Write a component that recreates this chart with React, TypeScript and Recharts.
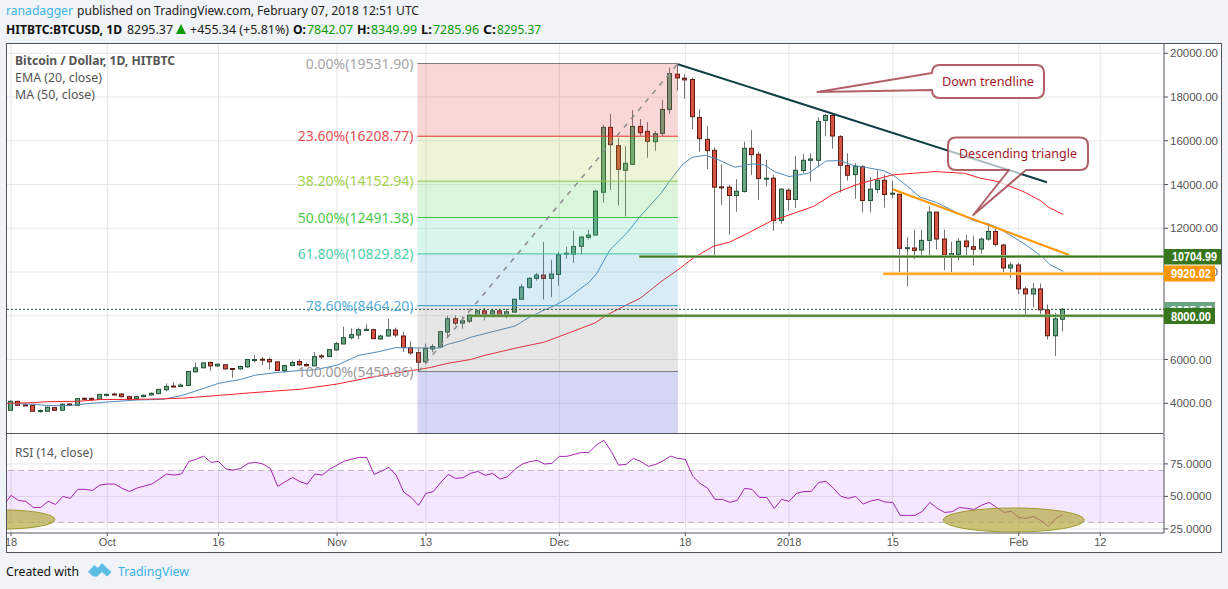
import { Bar, CartesianGrid, ComposedChart, Line, ReferenceArea, ReferenceDot, ReferenceLine, XAxis, YAxis } from "recharts";

// daily candles, index 0 = 18 Sep 2017
const opens = [3682,4091,3924,3909,3636,3636,3803,3682,3970,3909,4227,4227,4182,4379,4424,4424,4303,4197,4303,4379,4439,4621,4788,4773,4818,5439,5621,5864,5712,5758,5591,5576,5667,5985,6015,6000,5894,5485,5727,5909,5773,5712,6167,6136,6439,6712,7000,7121,7348,7364,6939,7076,7348,7076,6545,6318,5894,6485,6576,7258,7864,7667,7758,8030,8227,8076,8227,8000,8167,8757,9303,9712,9863,9712,9894,10818,10818,11175,11585,11691,13650,16613,15777,14653,14927,16658,16431,15960,16340,17433,19043,18861,18800,17069,16066,15565,13894,13879,13499,13681,15656,15382,14274,14289,12360,13742,13317,14638,15109,15109,16932,17160,16188,14866,14456,14820,13271,13772,14198,13560,13560,11084,11099,11008,11448,12740,11509,10750,10811,11418,11160,11052,11508,11857,11234,10186,10323,9229,9001,9229,8272,7087,7842.07];
const highs = [4136,4106,3955,3909,3727,3848,3818,4000,4000,4242,4273,4258,4409,4424,4485,4470,4348,4348,4409,4500,4652,4909,4955,4909,5455,5864,5848,5909,5818,5773,5591,5727,6030,6197,6106,6091,5909,5758,5955,6015,5848,6333,6242,6455,6803,7500,7424,7455,7606,7409,7136,7864,7455,7273,6833,6500,6727,6700,7303,8000,8015,7970,8091,8273,8364,8318,8288,8318,8773,9454,9757,9954,11378,10560,10924,11151,11874,11650,11935,13757,16720,17220,16150,15762,17403,16993,16856,16446,17858,19347,19500,19043,18891,17448,16674,15702,14927,13985,14243,15960,16491,15504,15124,14441,13833,13833,15307,15398,15428,17069,17221,17251,16264,15428,14972,14896,14335,14638,14441,14182,13560,11600,11935,11935,13000,12740,11935,11386,11553,11707,11661,11584,12161,12009,11295,10444,10414,9320,9503,9472,8515,8135,8349.99];
const lows = [3682,3894,3880,3621,3576,3621,3667,3667,3880,3894,4152,4091,4152,4303,4364,4273,4167,4152,4273,4348,4424,4545,4742,4758,4803,5409,5606,5485,5651,5530,5167,5530,5621,5879,5742,5561,5485,5409,5697,5712,5697,5697,6030,6106,6394,6697,6924,6924,7303,6939,6909,7061,7030,6348,6212,5450,5788,6333,6576,7030,7561,7409,7667,8015,7788,8060,8015,7879,8167,8757,9242,9606,8742,8848,9378,10606,10424,10818,11479,11691,13180,13757,13043,12542,14896,16218,15230,15550,16218,17220,18284,17919,16537,15504,14714,10765,13074,11707,12755,13636,14441,13301,13909,11889,12208,12800,12922,14517,14137,14790,16218,15641,13636,14182,13347,12724,12724,13605,12952,13378,9990,9352,10598,10690,10659,11023,10081,9990,10535,10750,10309,10839,11432,11174,9989,9730,8986,8060,8394,8090,6920,6161,7285.96];
const closes = [4091,3909,3909,3636,3667,3818,3682,3955,3909,4212,4197,4167,4409,4409,4394,4303,4197,4303,4364,4455,4636,4773,4758,4833,5455,5621,5848,5712,5788,5576,5576,5682,6000,6000,6000,5894,5500,5727,5864,5758,5712,6136,6136,6455,6727,7000,7136,7364,7379,6955,7076,7364,7121,6545,6303,5879,6500,6591,7273,7864,7667,7773,8030,8227,8076,8227,8030,8182,8757,9318,9712,9863,9712,9909,10788,10863,11170,11600,11691,13696,16613,15823,14699,14972,16658,16370,15975,16324,17433,19074,18876,18785,17100,16097,15550,13879,13864,13499,13696,15656,15367,14274,14289,12360,13788,13317,14653,15109,15170,16886,17160,16218,14881,14426,14836,13271,13788,14198,13545,13605,11084,11114,10993,11448,12740,11509,10765,10841,11403,11160,11038,11508,11857,11265,10186,10323,9229,9001,9229,8272,7087,7862,8295.37];

const emaDays = [-0.5,3,5,8,9,13,17,20.5,23,26,28,31,33,36,39,41,44,47,49.5,52,54,57.9,58.8,61,62,68,70,72,73.2,75,78,79,80.8,83.1,84.9,87.8,89,90.7,91.9,93.7,95.2,97.7,100,101.7,103,105,107.6,110,111.9,113.7,115.5,117.7,119,120.9,122.7,124.9,127.6,130,131.9,133.5,136.6,139.1,140.2,142];
const emaValues = [4000,3955,3894,3894,3940,4060,4150,4180,4350,4680,4910,5090,5290,5410,5500,5530,5740,6200,6350,6550,6530,6530,6680,6880,7015,7530,7940,8270,8440,8770,9530,9910,11000,11783,12542,13636,14213,14942,15246,15337,15170,14790,14942,14896,14593,14365,14517,15079,15094,14866,14775,14638,14441,13940,13423,13180,12724,12340,12206,11963,11325,10718,10338,10034];
const maDays = [-0.5,3,5,9,12,17,20,23,28,32,35,39,44,48,52,55,56.6,58.8,62,63.8,68.2,72,75,78.8,80.4,82.6,85,87.6,90,92.2,94.8,97,99.3,102.9,103.8,108.3,111,114,116.4,119,121.8,124.7,128.7,130.8,133.2,136.8,138.9,140,142];
const maValues = [4000,4030,4075,4090,4170,4180,4200,4230,4360,4470,4545,4640,4880,5150,5390,5545,5636,5818,6000,6180,6530,6800,7180,7670,8030,8420,8820,9530,10100,10670,11175,11372,11752,12390,12466,13000,13575,13985,14213,14441,14517,14592,14515,14290,14136,13650,13270,12966,12632];

// first value is the bar before the left edge
const rsiValues = [43,50.8,46.9,46.2,41.5,41.5,46.2,43.8,50,48.5,55.4,55.4,54.6,58.7,59.5,59.5,56.2,53.8,56.4,58,59.5,63.3,67.2,66.4,67.2,76.9,78.5,81,76.2,76.9,71,70.3,71.5,75.4,76.2,74.9,71.5,57.7,61.3,64.6,61.3,59.5,67.2,66.4,71,74.1,77.2,78.7,80,80,66.9,69.5,72.3,66.2,53.3,49.2,43.1,52.3,53.8,60.8,66.9,63.8,64.4,67.7,69.2,66.2,67.7,63.3,65.1,70.8,74.9,76.7,77.7,74.9,75.4,80.8,80.8,82.3,83.8,83.8,89.5,93.1,84.6,74.1,74.6,79.2,76.9,73.1,74.6,77.4,81,79.2,78.5,65.6,60,56.4,47.7,47.7,45.4,46.9,56.2,55.4,49.2,49.2,40.8,47.7,46.2,52.3,53.8,53.8,60.8,61.5,56.2,50,48.5,50,44.1,46.4,47.7,45.6,45.4,35.4,35.4,35.4,38.5,45.4,40.8,37.7,38.2,41.5,40.8,40,43.3,45.4,41.5,37.7,38.5,33.8,33.1,34.6,31.3,26.9,33.1,36.2];

const priceTicks = [4000,6000,8000,10000,12000,14000,16000,18000,20000];
const rsiTicks = [25,50,75];
const timeTicks = [0,13,28,44,56,74,91,105,119,136,147];
const timeLabels = ["18","Oct","16","Nov","13","Dec","18","2018","15","Feb","12"];

const fibLevels = ["0.00%","23.60%","38.20%","50.00%","61.80%","78.60%","100.00%"];
const fibPrices = [19531.9,16208.77,14152.94,12491.38,10829.82,8464.2,5450.86];
const fibLines = ["#787878","#e0352b","#8bc83f","#3fbf3f","#3fc3a0","#3d9bc7","#787878"];
const fibTexts = ["#a6a6a6","#e8505a","#a5d04f","#4cc94c","#4fd0a8","#5aaedb","#9a9a9a"];
const fibFills = ["#e53935","#a5c83a","#4ccb4c","#3fd3a3","#3d9fd3","#808080"];

const dayMin = -0.54;
const dayMax = 155.6;
const priceDomain = [2642, 20425];
const FONT = "'Noto Sans', sans-serif";
const AXIS_FONT = "'Liberation Sans', Arial, sans-serif";
const GRID = "#e6e6e6";
const FRAME = "#50535e";

const candleRows = closes.map((c, i) => ({ d: i, open: opens[i], high: highs[i], low: lows[i], close: c }));
const rsiRows = rsiValues.map((v, i) => ({ d: i - 1, v }));
const emaRows = emaDays.map((d, i) => ({ d, v: emaValues[i] }));
const maRows = maDays.map((d, i) => ({ d, v: maValues[i] }));

function Candle(props: any) {
  const { x, y, width, height, payload } = props;
  const { open, high, low, close } = payload;
  const perUnit = Math.abs(height) / Math.max(high - low, 1);
  const py = (p: number) => y + (high - p) * perUnit;
  const cx = Math.round(x + width / 2 - 1) + 0.5;
  const up = close >= open;
  const top = Math.max(open, close);
  const bot = Math.min(open, close);
  return (
    <g>
      <line x1={cx} x2={cx} y1={py(high)} y2={py(low)} stroke="#737375" />
      <rect
        x={cx - 2}
        y={py(top)}
        width={4}
        height={Math.max(py(bot) - py(top), 1)}
        fill={up ? "#6ba583" : "#d75442"}
        stroke={up ? "#225437" : "#5b1a13"}
      />
    </g>
  );
}

function Label({ x, y, w, children, anchor, fill, weight, size, font }: any) {
  return (
    <text
      x={x}
      y={y}
      textLength={w}
      lengthAdjust="spacingAndGlyphs"
      textAnchor={anchor}
      fill={fill}
      fontWeight={weight}
      fontSize={size ?? 13}
      fontFamily={font ?? FONT}
    >
      {children}
    </text>
  );
}

function PriceBase() {
  return (
    <ComposedChart width={1215} height={389} data={candleRows} margin={{ top: 0, right: 0, bottom: 0, left: 0 }} style={{ position: "absolute", left: 7, top: 44 }}>
      <CartesianGrid stroke={GRID} horizontalValues={priceTicks} verticalValues={timeTicks} />
      <XAxis dataKey="d" type="number" domain={[dayMin, dayMax]} allowDataOverflow hide />
      <YAxis
        orientation="right"
        width={58}
        domain={priceDomain}
        allowDataOverflow
        ticks={priceTicks}
        interval={0}
        tickFormatter={(v: number) => v.toFixed(2)}
        tick={{ fill: "#555", fontSize: 11.5, fontFamily: AXIS_FONT }}
        tickSize={4}
        stroke={FRAME}
      />
      <Bar dataKey={(r: any) => [r.low, r.high]} barSize={5} shape={<Candle />} isAnimationActive={false} />
      <Line data={emaRows} dataKey="v" stroke="#4f8bbd" strokeWidth={1} dot={false} isAnimationActive={false} />
      <Line data={maRows} dataKey="v" stroke="#f5222a" strokeWidth={1} dot={false} isAnimationActive={false} />
    </ComposedChart>
  );
}

function Drawings() {
  return (
    <ComposedChart width={1215} height={389} data={candleRows} margin={{ top: 0, right: 58, bottom: 0, left: 0 }} style={{ position: "absolute", left: 7, top: 44 }}>
      <XAxis dataKey="d" type="number" domain={[dayMin, dayMax]} allowDataOverflow hide />
      <YAxis domain={priceDomain} allowDataOverflow hide />
      {fibFills.map((f, i) => (
        <ReferenceArea key={f} x1={54.85} x2={90} y1={fibPrices[i]} y2={fibPrices[i + 1]} fill={f} fillOpacity={0.2} stroke="none" />
      ))}
      <ReferenceArea x1={54.85} x2={90} y1={fibPrices[6]} y2={priceDomain[0]} fill="#3f3fd3" fillOpacity={0.22} stroke="none" />
      {fibPrices.map((p, i) => (
        <ReferenceLine key={p} segment={[{ x: 54.85, y: p }, { x: 90, y: p }]} stroke={fibLines[i]} strokeWidth={1} />
      ))}
      {fibPrices.map((p, i) => (
        <ReferenceDot
          key={p}
          x={54.85}
          y={p}
          r={0}
          stroke="none"
          label={{ value: `${fibLevels[i]}(${p.toFixed(2)})`, position: "left", offset: 4, fill: fibTexts[i], fontSize: 14, fontFamily: FONT }}
        />
      ))}
      <ReferenceLine segment={[{ x: 55, y: 5450.86 }, { x: 90, y: 19531.9 }]} stroke="#8a8a8a" strokeWidth={1.5} strokeDasharray="5 6" />
      <ReferenceLine y={8295.37} stroke="#225437" strokeDasharray="2 2" />
      <ReferenceLine segment={[{ x: 90, y: 19500 }, { x: 139.8, y: 14106 }]} stroke="#0f3f45" strokeWidth={2} />
      <ReferenceLine segment={[{ x: 119, y: 13787 }, { x: 142.8, y: 10779 }]} stroke="#ff9800" strokeWidth={2} />
      <ReferenceLine segment={[{ x: 84.8, y: 10704.99 }, { x: dayMax, y: 10704.99 }]} stroke="#8fb37a" strokeWidth={3} />
      <ReferenceLine segment={[{ x: 84.8, y: 10704.99 }, { x: dayMax, y: 10704.99 }]} stroke="#38761d" strokeWidth={1.2} />
      <ReferenceLine segment={[{ x: 61.85, y: 8000 }, { x: dayMax, y: 8000 }]} stroke="#8fb37a" strokeWidth={3} />
      <ReferenceLine segment={[{ x: 61.85, y: 8000 }, { x: dayMax, y: 8000 }]} stroke="#38761d" strokeWidth={1.2} />
      <ReferenceLine segment={[{ x: 117.7, y: 9920.02 }, { x: dayMax, y: 9920.02 }]} stroke="#ffc266" strokeWidth={3} />
      <ReferenceLine segment={[{ x: 117.7, y: 9920.02 }, { x: dayMax, y: 9920.02 }]} stroke="#ff9800" strokeWidth={1.2} />
    </ComposedChart>
  );
}

function RsiPane() {
  return (
    <ComposedChart width={1215} height={118} data={rsiRows} margin={{ top: 0, right: 0, bottom: 0, left: 0 }} style={{ position: "absolute", left: 7, top: 434 }}>
      <CartesianGrid stroke={GRID} horizontalValues={rsiTicks} verticalValues={timeTicks} />
      <ReferenceArea y1={30} y2={70} fill="#9915ff" fillOpacity={0.1} stroke="none" />
      <ReferenceLine y={70} stroke="#b9b3bd" strokeDasharray="6 4" />
      <ReferenceLine y={30} stroke="#b9b3bd" strokeDasharray="6 4" />
      <XAxis
        dataKey="d"
        type="number"
        domain={[dayMin, dayMax]}
        allowDataOverflow
        ticks={timeTicks}
        interval={0}
        height={19}
        tickFormatter={(v: number) => timeLabels[timeTicks.indexOf(v)]}
        tick={{ fill: "#555", fontSize: 11, fontFamily: AXIS_FONT }}
        tickSize={3}
        stroke={FRAME}
      />
      <YAxis
        orientation="right"
        width={58}
        domain={[21.85, 98]}
        allowDataOverflow
        ticks={rsiTicks}
        interval={0}
        tickFormatter={(v: number) => v.toFixed(4)}
        tick={{ fill: "#555", fontSize: 11.5, fontFamily: AXIS_FONT }}
        tickSize={4}
        stroke={FRAME}
      />
      <Line dataKey="v" stroke="#a524b0" strokeWidth={1} dot={false} isAnimationActive={false} />
    </ComposedChart>
  );
}

function Overlay() {
  const callout = { fill: "#ffffff", fillOpacity: 0.65, stroke: "#a2444c", strokeOpacity: 0.85, strokeWidth: 2, strokeLinejoin: "round" as const };
  return (
    <svg width={1228} height={589} style={{ position: "absolute", left: 0, top: 0, pointerEvents: "none" }}>
      <defs>
        <clipPath id="rsiClip">
          <rect x={7} y={434} width={1157} height={99} />
        </clipPath>
      </defs>
      {/* header */}
      <Label x={6} y={15} w={67} fill="#3bb3e4">ranadagger</Label>
      <Label x={77} y={15} w={342} fill="#222">published on TradingView.com, February 07, 2018 12:51 UTC</Label>
      <Label x={6} y={34} w={116} fill="#111" weight={700}>HITBTC:BTCUSD, 1D</Label>
      <Label x={127} y={34} w={46} fill="#222">8295.37</Label>
      <path d="M176 34 L181 24 L186 34 Z" fill="#0a9a0a" />
      <Label x={190} y={34} w={99} fill="#222">+455.34 (+5.81%)</Label>
      <Label x={293} y={34} w={13} fill="#111" weight={700}>O:</Label>
      <Label x={307} y={34} w={46} fill="#0a9a0a">7842.07</Label>
      <Label x={357} y={34} w={13} fill="#111" weight={700}>H:</Label>
      <Label x={371} y={34} w={46} fill="#0a9a0a">8349.99</Label>
      <Label x={421} y={34} w={11} fill="#111" weight={700}>L:</Label>
      <Label x={433} y={34} w={46} fill="#0a9a0a">7285.96</Label>
      <Label x={483} y={34} w={13} fill="#111" weight={700}>C:</Label>
      <Label x={497} y={34} w={44} fill="#0a9a0a">8295.37</Label>
      {/* pane legends */}
      <Label x={15} y={65} w={160} fill="#555" weight={700}>Bitcoin / Dollar, 1D, HITBTC</Label>
      <Label x={15} y={82} w={87} fill="#555">EMA (20, close)</Label>
      <Label x={15} y={99} w={80} fill="#555">MA (50, close)</Label>
      <Label x={15} y={457} w={78} fill="#555">RSI (14, close)</Label>
      {/* RSI ellipses */}
      <g clipPath="url(#rsiClip)">
        <ellipse cx={5} cy={519.5} rx={50} ry={9.5} fill="#afa532" fillOpacity={0.65} stroke="#a09a2f" />
        <ellipse cx={1013.7} cy={520} rx={70.5} ry={12} fill="#afa532" fillOpacity={0.65} stroke="#a09a2f" />
      </g>
      {/* callouts */}
      <path d="M940 65 H1036 Q1044 65 1044 73 V90 Q1044 98 1036 98 H940 Q932 98 932 90 L817.5 92 L932 73 Q932 65 940 65 Z" {...callout} fillOpacity={1} />
      <Label x={988} y={85.5} w={92} anchor="middle" fill="#a3172a" size={13}>Down trendline</Label>
      <path d="M956 137.5 H1080 Q1088 137.5 1088 145.5 V162 Q1088 170 1080 170 H1026 L973.3 215 L1009 170 H956 Q948 170 948 162 V145.5 Q948 137.5 956 137.5 Z" {...callout} />
      <Label x={1018} y={157.5} w={118} anchor="middle" fill="#a3172a" size={13}>Descending triangle</Label>
      {/* price scale labels */}
      <rect x={1164} y={302} width={51} height={16} fill="#6ba583" />
      <Label x={1170} y={315} w={42} fill="#fff" weight={700} size={12} font={AXIS_FONT}>8295.37</Label>
      <rect x={1164} y={249} width={57} height={15.5} fill="#38761d" />
      <Label x={1172} y={261} w={45} fill="#fff" weight={700} size={12} font={AXIS_FONT}>10704.99</Label>
      <rect x={1164} y={265.5} width={51} height={16} fill="#ff9800" />
      <Label x={1171} y={278} w={40} fill="#fff" weight={700} size={12} font={AXIS_FONT}>9920.02</Label>
      <rect x={1164} y={308} width={51} height={16} fill="#38761d" />
      <Label x={1171} y={320.5} w={40} fill="#fff" weight={700} size={12} font={AXIS_FONT}>8000.00</Label>
      {/* the scale label under the pane is cut off at the time axis */}
      <rect x={1165} y={533} width={56} height={19} fill="#fff" />
      {/* frame */}
      <rect x={6.5} y={43.5} width={1215} height={509} fill="none" stroke={FRAME} />
      <line x1={7} x2={1164} y1={433.5} y2={433.5} stroke={FRAME} />
      {/* footer */}
      <Label x={6} y={576} w={73} fill="#111">Created with</Label>
      <path d="M88 572 L94 565 L98 568 L102 563 L107 568 L111.5 572 L107 576.5 L102 572 L97 576.5 L93 576.5 Z" fill="#5bbde6" />
      <Label x={118} y={576} w={71} fill="#3bb3e4">TradingView</Label>
    </svg>
  );
}

export default function App() {
  return (
    <div style={{ position: "absolute", left: 0, top: 0, width: 1228, height: 589, background: "#f0f3f7", overflow: "hidden" }}>
      <div style={{ position: "absolute", left: 7, top: 44, width: 1214, height: 508, background: "#fff" }} />
      <PriceBase />
      <RsiPane />
      <Drawings />
      <Overlay />
    </div>
  );
}
